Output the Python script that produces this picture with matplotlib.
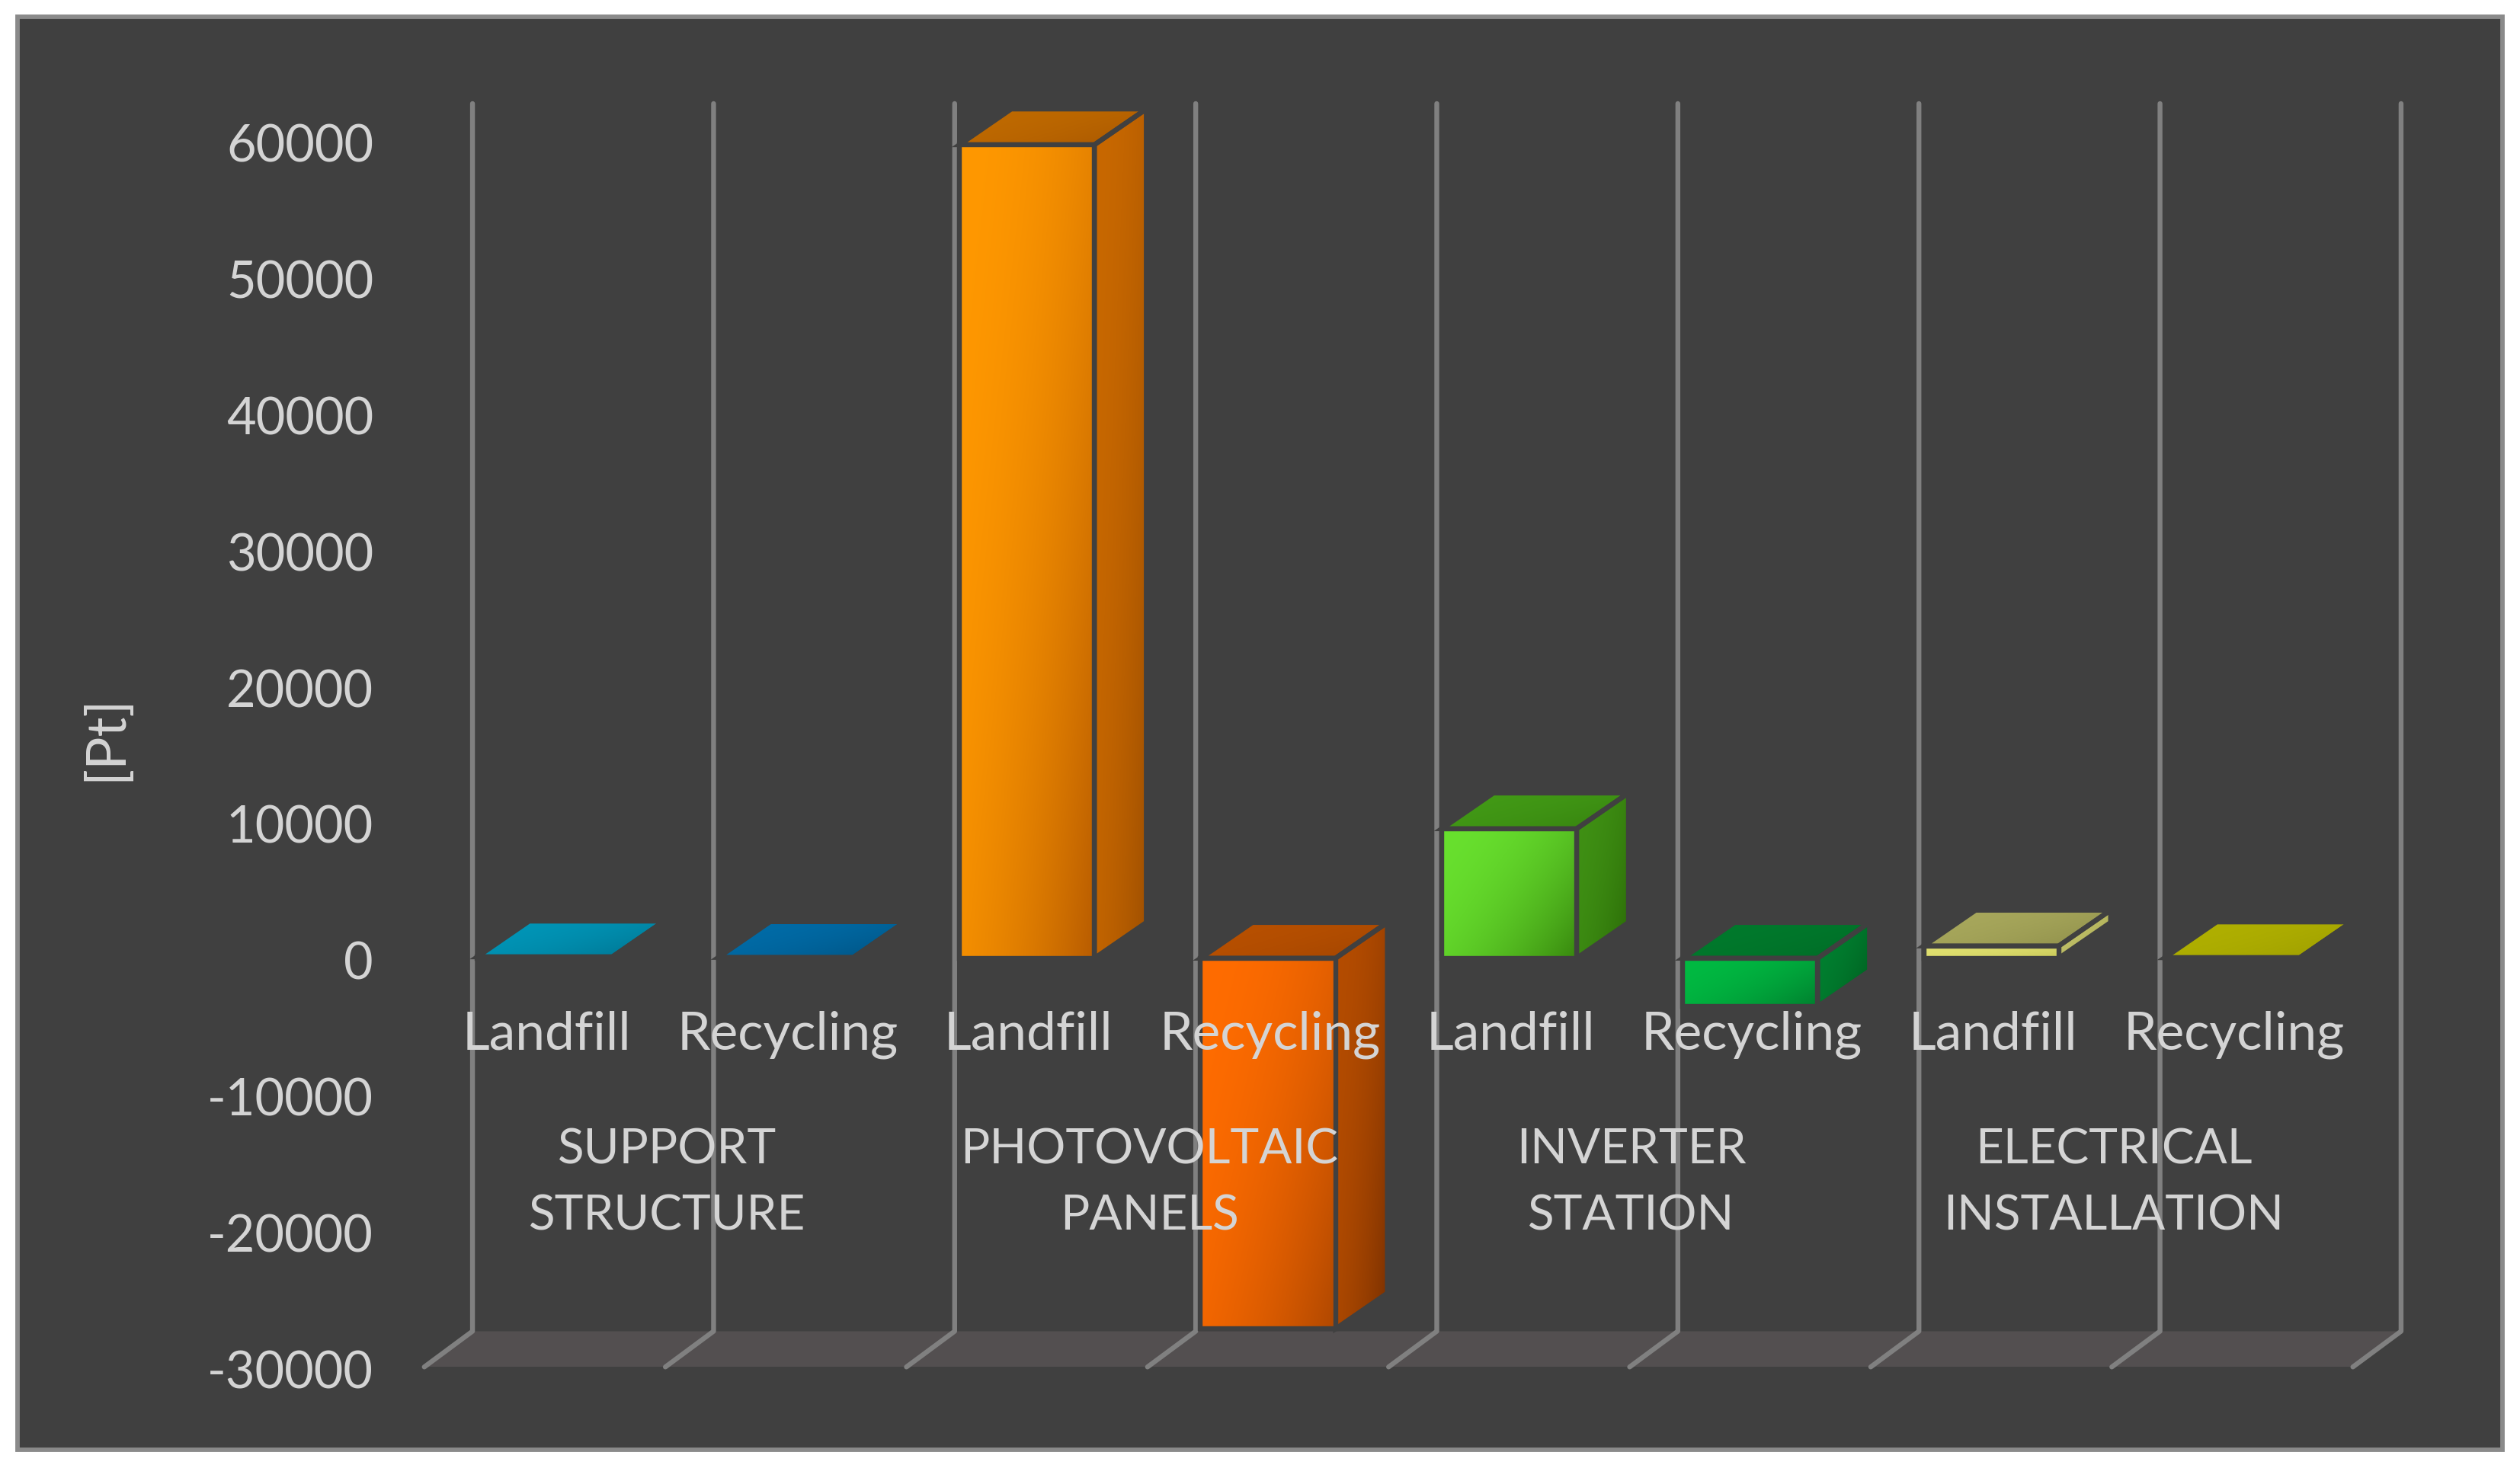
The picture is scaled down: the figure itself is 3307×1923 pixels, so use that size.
# Balken mit 3D-Optik: Landfill vs Recycling je Anlagenteil

import numpy as np
import matplotlib.pyplot as plt
from matplotlib.colors import to_rgb
from matplotlib.patches import Polygon, Rectangle
from matplotlib.transforms import ScaledTranslation

# Daten
gruppen = ["SUPPORT\nSTRUCTURE", "PHOTOVOLTAIC\nPANELS", "INVERTER\nSTATION", "ELECTRICAL\nINSTALLATION"]
szenarien = ["Landfill", "Recycling", "Landfill", "Recycling", "Landfill", "Recycling", "Landfill", "Recycling"]
werte = [100, 60, 59700, -27200, 9500, -3550, 900, 40]
y_ticks = [-30000, -20000, -10000, 0, 10000, 20000, 30000, 40000, 50000, 60000]

# Farben: Vorderseite, Seite, Oberseite (jeweils hell -> dunkel)
farben_vorne = [("#0092b4", "#007896"), ("#006aa4", "#005688"), ("#ff9800", "#b85c00"), ("#ff6c00", "#b04800"),
                ("#68e02e", "#38880e"), ("#00ba42", "#007e2e"), ("#e0e070", "#c8c858"), ("#b4b400", "#9c9c00")]
farben_seite = [("#007f9c", "#006a84"), ("#005a92", "#004a78"), ("#c86800", "#a05000"), ("#b44c00", "#7a3000"),
                ("#3f9014", "#2a6a06"), ("#008030", "#005a1e"), ("#c0c068", "#a8a850"), ("#9c9c00", "#8c8c00")]
farben_oben = [("#0096b8", "#00708c"), ("#006ca8", "#00507e"), ("#bf6a00", "#a85600"), ("#b85000", "#a04400"),
               ("#429a16", "#357f0e"), ("#007a2c", "#006a26"), ("#a8a85c", "#8c8c48"), ("#b0b000", "#9c9c00")]

hintergrund = "#404040"
rand = "#8a8a8a"
gitter = "#808080"
boden = "#534f50"
text = "#d4d4d4"

plt.rcParams["font.family"] = "Lato"

fig = plt.figure(figsize=(33.07, 19.24), dpi=100, facecolor="white")

# Rahmen des Diagramms
fig.add_artist(Rectangle((23 / 3307, 1 - 1904 / 1924), (3284 - 23) / 3307, (1904 - 23) / 1924,
                         transform=fig.transFigure, facecolor=hintergrund, edgecolor=rand, linewidth=4.2,
                         zorder=-1))

# Achse so legen, dass -30000 und 60000 an den richtigen Stellen liegen
ax = fig.add_axes([264 / 1568, 1 - 851 / 912, (1500 - 264) / 1568, (851 - 60) / 912])
ax.set_xlim(0, 8.24)
ax.set_ylim(-30000, 63300)
ax.patch.set_alpha(0)
for s in ax.spines.values():
    s.set_visible(False)

tiefe_x = 0.2
tiefe_y = 2620
balken_tiefe_x = 0.215
breite = 0.56


def verlauf(punkte, farbe1, farbe2, zorder):
    # Polygon mit Farbverlauf von links oben nach rechts unten, dunkel erst am Ende
    punkte = np.array(punkte)
    x0, x1 = punkte[:, 0].min(), punkte[:, 0].max()
    y0, y1 = punkte[:, 1].min(), punkte[:, 1].max()
    u, v = np.meshgrid(np.linspace(0, 1, 64), np.linspace(0, 1, 64))
    t = (0.6 * u + 0.4 * v) ** 2
    c1 = np.array(to_rgb(farbe1))
    c2 = np.array(to_rgb(farbe2))
    bild = c1 + (c2 - c1) * t[..., None]
    im = ax.imshow(bild, extent=(x0, x1, y0, y1), origin="upper", aspect="auto",
                   interpolation="bilinear", zorder=zorder)
    form = Polygon(punkte, closed=True, transform=ax.transData, facecolor="none", edgecolor="none")
    im.set_clip_path(form)
    ax.add_patch(Polygon(punkte, closed=True, facecolor="none", edgecolor=hintergrund,
                         linewidth=4.6, joinstyle="miter", zorder=zorder + 0.1))


# Boden und Gitterlinien
ax.add_patch(Polygon([(0, -30000), (8, -30000), (8 + tiefe_x, -30000 + tiefe_y), (tiefe_x, -30000 + tiefe_y)],
                     closed=True, facecolor=boden, edgecolor="none", zorder=1))
for i in range(len(werte) + 1):
    ax.plot([i, i + tiefe_x, i + tiefe_x], [-30000, -30000 + tiefe_y, 60000 + tiefe_y + 100],
            color=gitter, linewidth=4.6, solid_capstyle="round", clip_on=False, zorder=2)

# Balken von links nach rechts
for i, wert in enumerate(werte):
    links = i + 0.5 - breite / 2
    rechts = i + 0.5 + breite / 2
    unten = min(wert, 0)
    oben = max(wert, 0)
    z = 3 + i
    verlauf([(rechts, unten), (rechts + balken_tiefe_x, unten + tiefe_y),
             (rechts + balken_tiefe_x, oben + tiefe_y), (rechts, oben)],
            farben_seite[i][0], farben_seite[i][1], z)
    verlauf([(links, oben), (rechts, oben), (rechts + balken_tiefe_x, oben + tiefe_y),
             (links + balken_tiefe_x, oben + tiefe_y)],
            farben_oben[i][0], farben_oben[i][1], z)
    verlauf([(links, unten), (rechts, unten), (rechts, oben), (links, oben)],
            farben_vorne[i][0], farben_vorne[i][1], z + 0.5)

ax.set_xlim(0, 8.24)
ax.set_ylim(-30000, 63300)

# Y-Achse
ax.set_xticks([])
ax.set_yticks(y_ticks)
ax.set_yticklabels([str(t) for t in y_ticks])
ax.tick_params(axis="y", length=0, pad=48, labelsize=48, labelcolor=text)
for lbl in ax.get_yticklabels():
    lbl.set_transform(lbl.get_transform() + ScaledTranslation(0, -1.5 / 72, fig.dpi_scale_trans))

ax.text(-1.32, 16240, "[Pt]", color=text, fontsize=52, rotation=90, ha="center", va="center", zorder=30)

# Beschriftungen unter der Nulllinie
for i, name in enumerate(szenarien):
    ax.text(i + 0.507, -5540, name, color=text, fontsize=50, ha="center", va="center", zorder=30)
for i, name in enumerate(gruppen):
    ax.text(2 * i + 1.007, -16450, name, color=text, fontsize=46, ha="center", va="center",
            linespacing=1.62, zorder=30)

plt.savefig("out.png", dpi=100)
